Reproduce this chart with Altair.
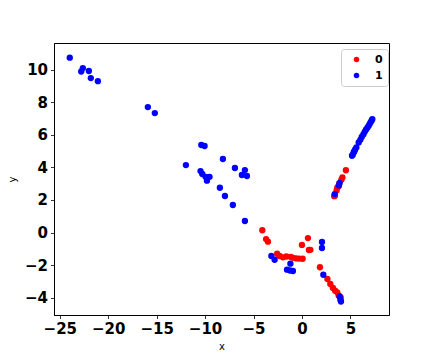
import altair as alt
import pandas as pd

# class 0 (red)
x0 = [-4.09, -3.70, -3.51, -2.56, -2.30, -1.96, -1.61, -1.15, -0.91, -0.58, -0.27, 0.07,
      0.00, 0.62, 0.72, 0.87, 1.86, 2.63, 2.93, 3.20, 3.43, 3.64, 3.79, 4.00,
      4.54, 4.18, 4.07, 3.84, 3.76, 3.58, 3.41, 3.65, 3.33]
y0 = [0.14, -0.40, -0.56, -1.30, -1.44, -1.52, -1.47, -1.50, -1.55, -1.59, -1.60, -1.61,
      -0.76, -0.34, -1.07, -1.06, -2.13, -2.85, -3.16, -3.40, -3.57, -3.67, -3.86, -3.98,
      3.82, 3.38, 3.24, 2.99, 2.83, 2.58, 2.26, 2.75, 2.23]

# class 1 (blue)
x1 = [-23.97, -22.79, -22.62, -22.00, -21.80, -21.07, -15.91, -15.19, -10.39, -10.05,
      -8.16, -11.98, -10.47, -10.29, -9.95, -9.54, -9.81, -8.47, -7.95, -7.13, -5.89,
      -6.92, -5.89, -6.20, -5.68, -3.16, -2.82, -1.19, -1.54, -1.24, -0.93,
      2.07, 2.07, 2.21, 3.89, 3.97, 4.03, 3.89, 3.82, 3.38,
      5.17, 5.25, 5.34, 5.40, 5.48, 5.62, 5.86, 6.03, 6.17, 6.34, 6.48, 6.61, 6.76,
      6.89, 7.00, 7.10, 7.20, 7.27]
y1 = [10.73, 9.88, 10.09, 9.91, 9.48, 9.29, 7.70, 7.33, 5.37, 5.31,
      4.51, 4.14, 3.77, 3.59, 3.42, 3.42, 3.18, 2.75, 2.24, 1.69, 0.71,
      3.96, 3.83, 3.53, 3.47, -1.44, -1.67, -1.91, -2.28, -2.33, -2.36,
      -0.58, -0.95, -2.59, -3.92, -4.12, -4.23, 3.04, 2.89, 2.36,
      4.71, 4.78, 4.91, 4.98, 5.08, 5.22, 5.53, 5.69, 5.86, 6.02, 6.18, 6.31, 6.43,
      6.55, 6.67, 6.78, 6.88, 6.96]

x_ticks = [-25, -20, -15, -10, -5, 0, 5]
y_ticks = [-4, -2, 0, 2, 4, 6, 8, 10]
classes = ["0", "1"]
colors = ["#ff0000", "#0000ff"]

df = pd.DataFrame({
    "x": x0 + x1,
    "y": y0 + y1,
    "c": [classes[0]] * len(x0) + [classes[1]] * len(x1),
})

axis_common = dict(
    grid=False, domainColor="black", tickColor="black", tickSize=3.5, tickWidth=0.8,
    domainWidth=0.8, labelFont="DejaVu Sans", labelFontWeight="bold", labelFontSize=15,
    labelColor="black", labelPadding=3, titleFont="DejaVu Sans", titleFontSize=10,
    titleFontWeight="normal", titleColor="black",
)

chart = alt.Chart(df).mark_circle(size=40, opacity=1).encode(
    x=alt.X("x:Q", scale=alt.Scale(domain=[-25.6, 8.99], nice=False, zero=False),
            axis=alt.Axis(values=x_ticks, title="x", titlePadding=5, **axis_common)),
    y=alt.Y("y:Q", scale=alt.Scale(domain=[-5.06, 11.63], nice=False, zero=False),
            axis=alt.Axis(values=y_ticks, title="y", titlePadding=7, **axis_common)),
    color=alt.Color("c:N", scale=alt.Scale(domain=classes, range=colors), title=None,
                    legend=alt.Legend(orient="none", legendX=287, legendY=6,
                                      strokeColor="#cccccc", fillColor="white",
                                      cornerRadius=3, padding=5, symbolOffset=5,
                                      symbolType="circle", symbolSize=30,
                                      labelFont="DejaVu Sans", labelFontWeight="bold",
                                      labelFontSize=11, labelOffset=13, rowPadding=4)),
).properties(
    width=335, height=272,
    padding={"left": 46, "top": 35, "right": 30, "bottom": 40},
    autosize="none",
).configure_view(stroke="black", strokeWidth=1)

chart.save("out.html", embed_options={"renderer": "svg", "actions": False})
